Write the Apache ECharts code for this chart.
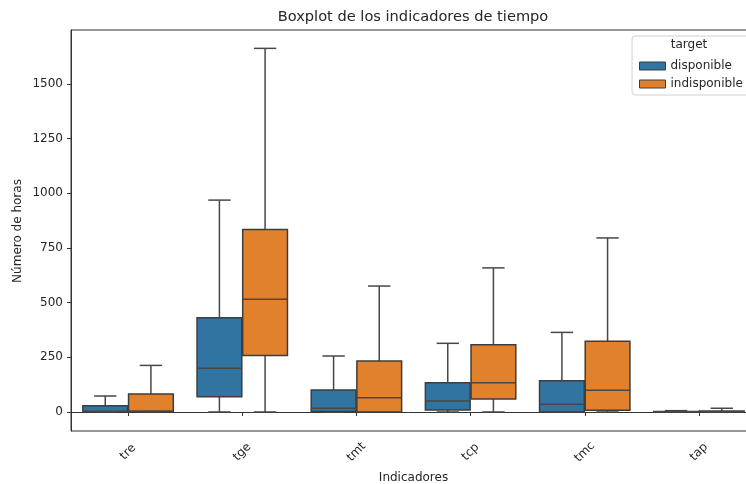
<!DOCTYPE html>
<html><head><meta charset="utf-8">
<script src="https://cdn.jsdelivr.net/npm/echarts@6/dist/echarts.min.js"></script>
<style>html,body{margin:0;padding:0;background:#fff}#c{width:746px;height:484px}</style>
</head><body><div id="c"></div>
<script>
const categories = ['tre','tge','tmt','tcp','tmc','tap'];
const groupNames = ['disponible','indisponible'];
// [min, q1, median, q3, max]
const disponible = [
  [0, 1, 3, 28, 73],
  [0, 70, 200, 431, 969],
  [0, 2, 17, 100, 256],
  [0, 9, 50, 134, 314],
  [0, 0, 35, 143, 364],
  [0, 0, 1, 2, 6]
];
const indisponible = [
  [0, 0, 5, 82, 213],
  [0, 258, 515, 835, 1663],
  [0, 0, 65, 233, 576],
  [0, 59, 134, 308, 659],
  [0, 8, 99, 323, 796],
  [0, 0, 1, 4, 17]
];
const yTicks = [0, 250, 500, 750, 1000, 1250, 1500];

const colors = ['#3274a1', '#e1812c'];
const FONT = 'DejaVu Sans';
const lineCol = '#474747';
const txtCol = '#262626';

function makeSeries(name, data, gi) {
  return {
    type: 'custom',
    name: name,
    itemStyle: { color: colors[gi] },
    data: data.map((d, i) => [i].concat(d)),
    encode: { x: 0, y: [1, 2, 3, 4, 5] },
    renderItem: function (params, api) {
      const idx = api.value(0);
      const band = api.size([1, 0])[0];
      const cx = api.coord([idx, 0])[0] + (gi === 0 ? -0.2 : 0.2) * band;
      const w = band * 0.392;
      const cap = w * 0.5;
      const y = [1, 2, 3, 4, 5].map(k => api.coord([idx, api.value(k)])[1]);
      const ls = { stroke: lineCol, lineWidth: 1.5 };
      return {
        type: 'group',
        children: [
          { type: 'line', shape: { x1: cx, y1: y[0], x2: cx, y2: y[1] }, style: ls },
          { type: 'line', shape: { x1: cx, y1: y[3], x2: cx, y2: y[4] }, style: ls },
          { type: 'line', shape: { x1: cx - cap / 2, y1: y[0], x2: cx + cap / 2, y2: y[0] }, style: ls },
          { type: 'line', shape: { x1: cx - cap / 2, y1: y[4], x2: cx + cap / 2, y2: y[4] }, style: ls },
          { type: 'rect', shape: { x: cx - w / 2, y: y[3], width: w, height: y[1] - y[3] },
            style: { fill: colors[gi], stroke: '#3d3d3d', lineWidth: 1.5 } },
          { type: 'line', shape: { x1: cx - w / 2, y1: y[2], x2: cx + w / 2, y2: y[2] }, style: ls }
        ]
      };
    }
  };
}

const chart = echarts.init(document.getElementById('c'), null, { renderer: 'canvas' });
chart.setOption({
  animation: false,
  textStyle: { fontFamily: FONT },
  grid: { left: 71, top: 30, right: -10, bottom: 53, show: true, borderColor: '#333', borderWidth: 1, containLabel: false, outerBoundsMode: 'none' },
  xAxis: {
    type: 'category',
    data: categories,
    name: 'Indicadores',
    nameLocation: 'middle',
    nameGap: 46,
    nameTextStyle: { fontFamily: FONT, fontSize: 12, color: txtCol, verticalAlign: 'middle' },
    axisLine: { show: true, lineStyle: { color: '#333', width: 1 } },
    axisTick: { show: true, alignWithLabel: true, length: 4, lineStyle: { color: '#333' } },
    axisLabel: { rotate: 45, align: 'center', verticalAlign: 'middle', margin: 21, fontFamily: FONT, fontSize: 12, color: txtCol },
    splitLine: { show: false }
  },
  yAxis: {
    type: 'value',
    min: -87, max: 1747,
    axisLine: { show: true, lineStyle: { color: '#333', width: 1 } },
    axisTick: { show: true, length: 4, customValues: yTicks, lineStyle: { color: '#333' } },
    axisLabel: { customValues: yTicks, formatter: v => String(v), margin: 8, fontFamily: FONT, fontSize: 12, color: txtCol },
    splitLine: { show: false }
  },
  legend: {
    orient: 'vertical',
    left: 634, top: 54,
    itemWidth: 26, itemHeight: 8, itemGap: 4,
    icon: 'rect',
    textStyle: { fontFamily: FONT, fontSize: 12, color: txtCol, lineHeight: 14 },
    data: groupNames.map((n, i) => ({ name: n, itemStyle: { color: colors[i], borderColor: '#3d3d3d', borderWidth: 1 } })),
    z: 10
  },
  graphic: [
    { type: 'text', x: 413, y: 17, style: { text: 'Boxplot de los indicadores de tiempo', fontFamily: FONT, fontSize: 14.6, fill: txtCol, textAlign: 'center', textVerticalAlign: 'middle' } },
    { type: 'text', x: 18, y: 231, rotation: Math.PI / 2, style: { text: 'Número de horas', fontFamily: FONT, fontSize: 12, fill: txtCol, textAlign: 'center', textVerticalAlign: 'middle' } },
    { type: 'rect', z: 5, shape: { x: 632, y: 36, width: 130, height: 59, r: 3 }, style: { fill: 'rgba(255,255,255,0.8)', stroke: '#d0d0d0', lineWidth: 1 } },
    { type: 'text', z: 6, x: 689, y: 45, style: { text: 'target', fontFamily: FONT, fontSize: 12, fill: txtCol, textAlign: 'center', textVerticalAlign: 'middle' } }
  ],
  series: [makeSeries(groupNames[0], disponible, 0), makeSeries(groupNames[1], indisponible, 1)]
});
</script>
</body></html>
